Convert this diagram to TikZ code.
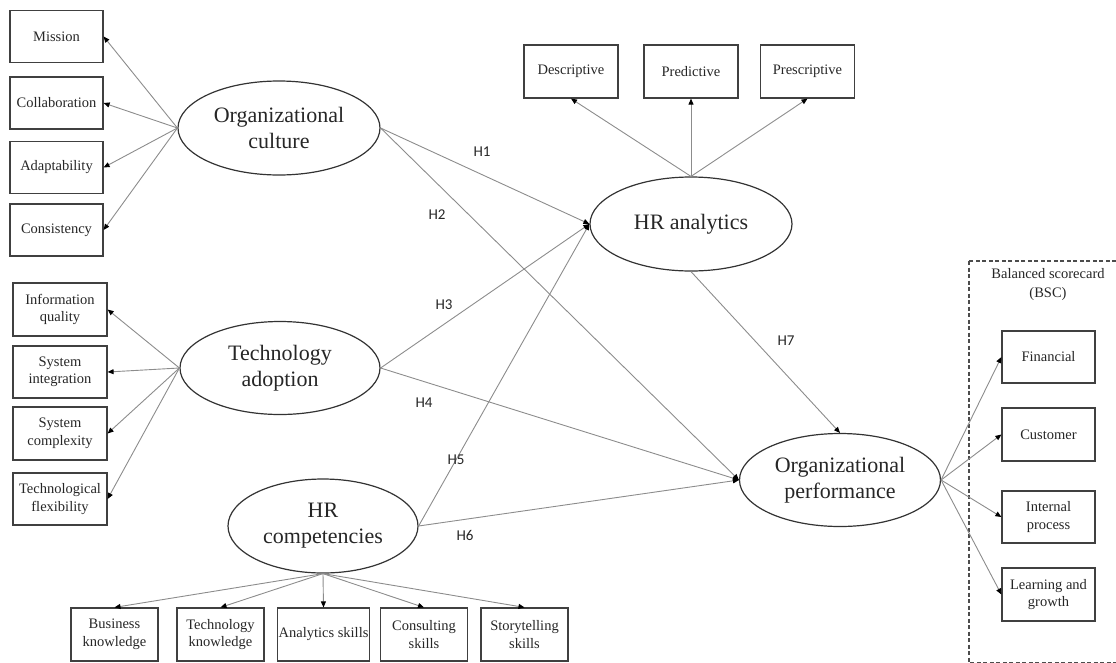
\documentclass[tikz,border=0pt]{standalone}
\usepackage{fontspec}
\setmainfont{Liberation Serif}
\newfontfamily\hfont{Carlito}
\usetikzlibrary{shapes.geometric,arrows.meta}
\begin{document}
\begin{tikzpicture}[x=1pt,y=-1pt,
  box/.style={draw=black!75, line width=1.2pt, minimum width=93pt, minimum height=52pt, inner sep=1pt, align=center, font=\fontsize{14.5}{17.5}\selectfont, text=black!85},
  lat/.style={ellipse, draw=black!80, line width=1.2pt, inner sep=0pt, align=center, font=\fontsize{22}{26}\selectfont, text=black!85},
  arr/.style={draw=black!45, line width=0.9pt, -{Triangle[length=6pt,width=5pt,color=black]}},
  hlab/.style={font=\hfont\fontsize{15}{18}\selectfont, text=black!85}]
\useasboundingbox (0,0) rectangle (1116,662);
% latent variables
\node[lat, minimum width=202pt, minimum height=94pt] (OC) at (279,128) {Organizational\\culture};
\node[lat, minimum width=200pt, minimum height=93pt] (TA) at (280,368) {Technology\\adoption};
\node[lat, minimum width=190pt, minimum height=94pt] (HRC) at (323,526) {HR\\competencies};
\node[lat, minimum width=202pt, minimum height=94pt] (HRA) at (691,224) {HR analytics};
\node[lat, minimum width=201pt, minimum height=93pt] (OP) at (840,480) {Organizational\\performance};
% culture indicators
\node[box] (Mi) at (56.5,36.5) {Mission};
\node[box] (Co) at (56.5,103) {Collaboration};
\node[box] (Ad) at (56.5,167.5) {Adaptability};
\node[box] (Cs) at (56.5,230) {Consistency};
% technology indicators
\node[box, minimum width=94pt, minimum height=53pt] (IQ) at (60,309.5) {Information\\quality};
\node[box, minimum width=94pt] (SI) at (60,372) {System\\integration};
\node[box, minimum width=94pt, minimum height=53pt] (SC) at (60,433.5) {System\\complexity};
\node[box, minimum width=94pt] (TF) at (60,499) {Technological\\flexibility};
% competency indicators
\node[box, minimum width=87pt, minimum height=53pt] (BK) at (114.5,634.5) {Business\\knowledge};
\node[box, minimum width=87pt, minimum height=53pt] (TK) at (220.5,634.5) {Technology\\knowledge};
\node[box, minimum width=87pt, minimum height=53pt] (AS) at (323.5,634.5) {Analytics skills};
\node[box, minimum width=87pt, minimum height=53pt] (CS) at (424,634.5) {Consulting\\skills};
\node[box, minimum width=87pt, minimum height=53pt] (SS) at (524.5,634.5) {Storytelling\\skills};
% analytics indicators
\node[box, minimum width=94pt, minimum height=53pt] (De) at (571,71.5) {Descriptive};
\node[box, minimum width=94pt, minimum height=53pt] (Pr) at (691,71.5) {Predictive};
\node[box, minimum width=94pt, minimum height=53pt] (Ps) at (807.5,71.5) {Prescriptive};
% BSC
\coordinate (bscA) at (969,261);
\coordinate (bscB) at (1122,662.6);
\draw[draw=black!70, line width=1.1pt, dash pattern=on 4pt off 2.5pt] (bscA) rectangle (bscB);
\node[align=center, font=\fontsize{14.5}{19}\selectfont, text=black!85] (bsclab) at (1048,285) {Balanced scorecard\\(BSC)};
\node[box] (Fi) at (1048.5,357) {Financial};
\node[box, minimum height=53pt] (Cu) at (1048.5,434.5) {Customer};
\node[box] (IP) at (1048.5,517) {Internal\\process};
\node[box, minimum height=53pt] (LG) at (1048.5,594.5) {Learning and\\growth};
% indicator arrows
\foreach \b in {Mi,Co,Ad,Cs} \draw[arr] (OC.west) -- (\b.east);
\foreach \b in {IQ,SI,SC,TF} \draw[arr] (TA.west) -- (\b.east);
\foreach \b in {BK,TK,AS,CS,SS} \draw[arr] (HRC.south) -- (\b.north);
\foreach \b in {De,Pr,Ps} \draw[arr] (HRA.north) -- (\b.south);
\foreach \b in {Fi,Cu,IP,LG} \draw[arr] (OP.east) -- (\b.west);
% hypotheses
\draw[arr] (OC.east) -- (HRA.west);
\draw[arr] (OC.east) -- (OP.west);
\draw[arr] (TA.east) -- (HRA.west);
\draw[arr] (TA.east) -- (OP.west);
\draw[arr] (HRC.east) -- (HRA.west);
\draw[arr] (HRC.east) -- (OP.west);
\draw[arr] (HRA.south) -- (OP.north);
\node[hlab] (h1) at (482,152) {H1};
\node[hlab] (h2) at (437,215) {H2};
\node[hlab] (h3) at (444,305) {H3};
\node[hlab] (h4) at (424,403) {H4};
\node[hlab] (h5) at (456,460) {H5};
\node[hlab] (h6) at (465,535) {H6};
\node[hlab] (h7) at (786,341) {H7};
\end{tikzpicture}
\end{document}
